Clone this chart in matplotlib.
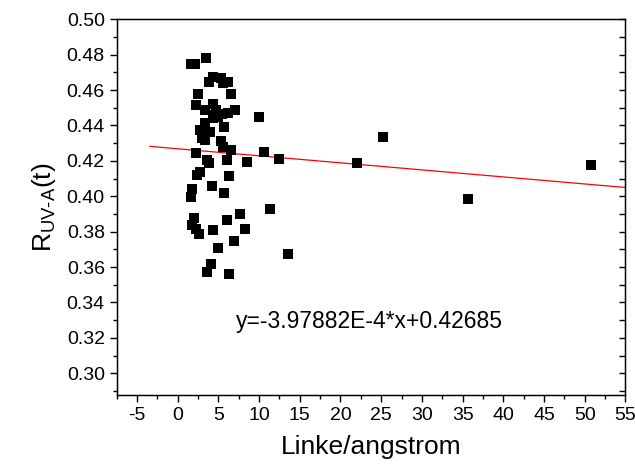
import numpy as np
import matplotlib.pyplot as plt
from matplotlib.ticker import MultipleLocator

plt.rcParams['font.family'] = ['Liberation Sans', 'DejaVu Sans']
plt.rcParams['mathtext.fontset'] = 'custom'
plt.rcParams['mathtext.rm'] = 'Liberation Sans'
plt.rcParams['mathtext.it'] = 'Liberation Sans'
plt.rcParams['axes.unicode_minus'] = False

# Linke/angstrom values and R_UV-A(t) values
linke = [1.6, 2.1, 3.5, 4.3, 5.3, 3.8, 5.6, 6.15, 2.55, 6.5,
         2.2, 3.3, 4.3, 4.7, 7.05, 4.6, 5.4, 6.15, 4.4, 5.0,
         3.4, 5.7, 2.75, 4.0, 2.95, 3.35, 5.3, 5.6, 6.55, 2.2,
         3.6, 3.85, 6.1, 8.5, 2.75, 2.35, 6.35, 1.8, 4.25, 5.7,
         1.6, 2.0, 1.8, 2.2, 2.6, 4.4, 6.1, 7.7, 8.3, 6.9,
         5.0, 4.05, 3.65, 6.3, 10.05, 10.6, 12.4, 22.0, 25.2, 35.7,
         50.75, 11.3, 13.55]
r_uva = [0.4747, 0.4745, 0.4780, 0.4676, 0.4670, 0.4644, 0.4638, 0.4644, 0.4580, 0.4576,
         0.4516, 0.4490, 0.4520, 0.4490, 0.4488, 0.4460, 0.4465, 0.4469, 0.4440, 0.4450,
         0.4412, 0.4393, 0.4375, 0.4365, 0.4328, 0.4318, 0.4314, 0.4280, 0.4260, 0.4243,
         0.4205, 0.4186, 0.4205, 0.4195, 0.4135, 0.4120, 0.4116, 0.4040, 0.4058, 0.4020,
         0.3994, 0.3880, 0.3838, 0.3813, 0.3785, 0.3810, 0.3864, 0.3898, 0.3817, 0.3746,
         0.3710, 0.3617, 0.3574, 0.3560, 0.4449, 0.4249, 0.4211, 0.4190, 0.4335, 0.3987,
         0.4179, 0.3926, 0.3674]

# linear fit shown in the chart
slope = -3.97882e-4
intercept = 0.42685
fit_x = [-3.4, 55]

fig = plt.figure(figsize=(6.35, 4.69), dpi=100)
ax = fig.add_axes([0.1836, 0.1578, 0.8014, 0.801])

ax.scatter(linke, r_uva, marker='s', s=48, color='k', linewidths=0, zorder=3)
ax.plot(fit_x, [slope * v + intercept for v in fit_x], color='red', linewidth=0.9)

ax.text(7.2, 0.329, 'y=-3.97882E-4*x+0.42685', fontsize=16.5, va='center', ha='left')

ax.set_xlim(-7.5, 55)
ax.set_ylim(0.2877, 0.50)
ax.xaxis.set_major_locator(MultipleLocator(5))
ax.xaxis.set_minor_locator(MultipleLocator(2.5))
ax.yaxis.set_major_locator(MultipleLocator(0.02))
ax.yaxis.set_minor_locator(MultipleLocator(0.01))
ax.yaxis.set_major_formatter(plt.FormatStrFormatter('%.2f'))

ax.tick_params(which='major', direction='out', length=5, width=1, labelsize=14)
ax.tick_params(which='minor', direction='out', length=3, width=1)
for s in ax.spines.values():
    s.set_linewidth(1)

# right axis: inward ticks, no labels
ax2 = ax.twinx()
ax2.set_ylim(ax.get_ylim())
ax2.yaxis.set_major_locator(MultipleLocator(0.02))
ax2.yaxis.set_minor_locator(MultipleLocator(0.01))
ax2.tick_params(which='both', direction='in', length=4, width=1, labelright=False)

ax.set_xlabel('Linke/angstrom', fontsize=19, labelpad=8)
ax.set_ylabel(r'R$_{\mathrm{UV\text{-}A}}$(t)', fontsize=19, labelpad=6)

fig.savefig('out.png', dpi=100)
